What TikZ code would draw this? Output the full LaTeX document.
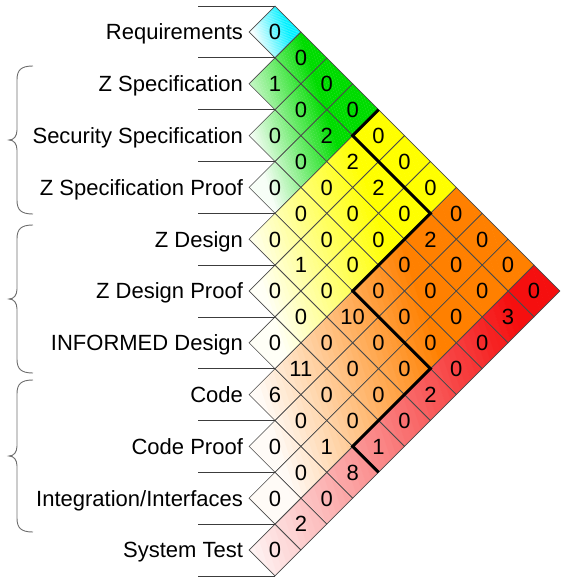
\documentclass[tikz,border=0pt]{standalone}
\usepackage{fontspec}
\setmainfont{Liberation Sans}
\definecolor{bandcyan}{RGB}{0,240,255}
\definecolor{bandgreen}{RGB}{0,220,0}
\definecolor{bandyellow}{RGB}{255,255,0}
\definecolor{bandorange}{RGB}{255,128,0}
\definecolor{bandred}{RGB}{245,15,15}
\definecolor{gridgray}{RGB}{75,75,75}
\definecolor{rulegray}{RGB}{60,60,60}
\definecolor{bracegray}{RGB}{110,110,110}

% Fill the columns #2..#3 of the triangular matrix with colour #1,
% fading to white towards the lower left (works in cell coordinates).
% #4 = steepness of the fade, #5 = position where it reaches white.
\newcommand\bandfill[5]{%
  \begin{scope}
    \clip ({#2-.5},-.5) -- ({#3+.5},-.5) -- ({#3+.5},{#3+.5})
      \foreach \k in {#3,...,#2} { -- ({\k-.5},{\k+.5}) -- ({\k-.5},{\k-.5}) } -- cycle;
    \pgfmathsetmacro\cmax{2*#3+3}
    \foreach \s in {0,...,59} {
      \pgfmathsetmacro\ca{-\cmax+2*\cmax*\s/60}
      \pgfmathsetmacro\cb{\ca+2*\cmax*1.08/60}
      \pgfmathsetmacro\tpos{(\s+0.5)/60}
      \pgfmathtruncatemacro\pc{100*min(1,max(0.04,#4*(\tpos-#5)))}
      \fill[#1!\pc!white] ({\ca/2-40},-20) -- ({\ca/2+40},20) -- ({\cb/2+40},20) -- ({\cb/2-40},-20) -- cycle;
    }
  \end{scope}}

\begin{document}
\begin{tikzpicture}[x=1pt,y=-1pt,
  lbl/.style={font=\fontsize{22}{26}\selectfont, inner sep=0pt, text height=15.75pt, text depth=0pt, anchor=east},
  num/.style={font=\fontsize{22}{26}\selectfont, inner sep=0pt, text height=15.75pt, text depth=0pt, anchor=center},
  cellline/.style={draw=gridgray, line width=0.6pt},
  rowrule/.style={draw=rulegray, line width=0.8pt},
  bracepath/.style={draw=bracegray, line width=0.9pt},
  boundary/.style={draw=black, line width=3pt, line join=miter}]

\useasboundingbox (0,0) rectangle (560,578);

% ---- triangular matrix, in cell coordinates (q = column, p = row)
\begin{scope}[shift={(275pt,-32pt)}, x={(25.9pt,-25.9pt)}, y={(-25.9pt,-25.9pt)}]
  \bandfill{bandcyan}{0}{0}{1.4}{0.05}
  \bandfill{bandgreen}{1}{3}{1.8}{0.1}
  \bandfill{bandyellow}{4}{6}{1.8}{0.1}
  \bandfill{bandorange}{7}{9}{1.8}{0.1}
  \bandfill{bandred}{10}{10}{1.1}{-0.045}

  \foreach \i in {0,...,10} {
    \foreach \j in {\i,...,10} {
      \draw[cellline] ({\j-.5},{\i-.5}) -- ({\j+.5},{\i-.5}) -- ({\j+.5},{\i+.5}) -- ({\j-.5},{\i+.5}) -- cycle;
    }
  }

  \draw[boundary] (3.5,-.5) -- (3.5,.5) -- (6.5,.5) -- (6.5,3.5) -- (9.5,3.5) -- (9.5,6.5) -- (10.5,6.5);

  \foreach \i/\vals in {0/{0,0,0,0,0,0,0,0,0,0,0},
                        1/{1,0,2,2,2,0,2,0,0,3},
                        2/{0,0,0,0,0,0,0,0,0},
                        3/{0,0,0,0,0,0,0,0},
                        4/{0,1,0,10,0,0,2},
                        5/{0,0,0,0,0,0},
                        6/{0,11,0,0,1},
                        7/{6,0,1,8},
                        8/{0,0,0},
                        9/{0,2},
                        10/{0}} {
    \foreach \v [count=\c from 0] in \vals {
      \pgfmathtruncatemacro\j{\i+\c}
      \node[num] (n-\i-\j) at (\j,\i) {\v};
    }
  }

  % top corners of the diagonal cells and their left corners
  \foreach \k in {0,...,11} {
    \coordinate (v\k) at ({\k-.5},{\k-.5});
    \coordinate (lv\k) at ({\k-.5},{\k+.5});
  }
\end{scope}

% ---- row rules
\foreach \k in {0,...,11} {
  \draw[rowrule] (v\k) -- ++(-77pt,0pt);
}

% ---- row labels
\node[lbl] (lab0)  at ([xshift=-6pt]lv0)  {Requirements};
\node[lbl] (lab1)  at ([xshift=-6pt]lv1)  {Z Specification};
\node[lbl] (lab2)  at ([xshift=-6pt]lv2)  {Security Specification};
\node[lbl] (lab3)  at ([xshift=-6pt]lv3)  {Z Specification Proof};
\node[lbl] (lab4)  at ([xshift=-6pt]lv4)  {Z Design};
\node[lbl] (lab5)  at ([xshift=-6pt]lv5)  {Z Design Proof};
\node[lbl] (lab6)  at ([xshift=-6pt]lv6)  {INFORMED Design};
\node[lbl] (lab7)  at ([xshift=-6pt]lv7)  {Code};
\node[lbl] (lab8)  at ([xshift=-6pt]lv8)  {Code Proof};
\node[lbl] (lab9)  at ([xshift=-6pt]lv9)  {Integration/Interfaces};
\node[lbl] (lab10) at ([xshift=-6pt]lv10) {System Test};

% ---- braces grouping the phases
\foreach \yt/\ym/\yb in {66/140/214, 225/299/373, 380/456/532} {
  \draw[bracepath] (33,\yt) .. controls (21,\yt) and (17,\yt+4) .. (17,\yt+14)
    -- (17,\ym-10) .. controls (17,\ym-4) and (14,\ym) .. (9,\ym)
    .. controls (14,\ym) and (17,\ym+4) .. (17,\ym+10)
    -- (17,\yb-14) .. controls (17,\yb-4) and (21,\yb) .. (33,\yb);
}
\end{tikzpicture}
\end{document}
